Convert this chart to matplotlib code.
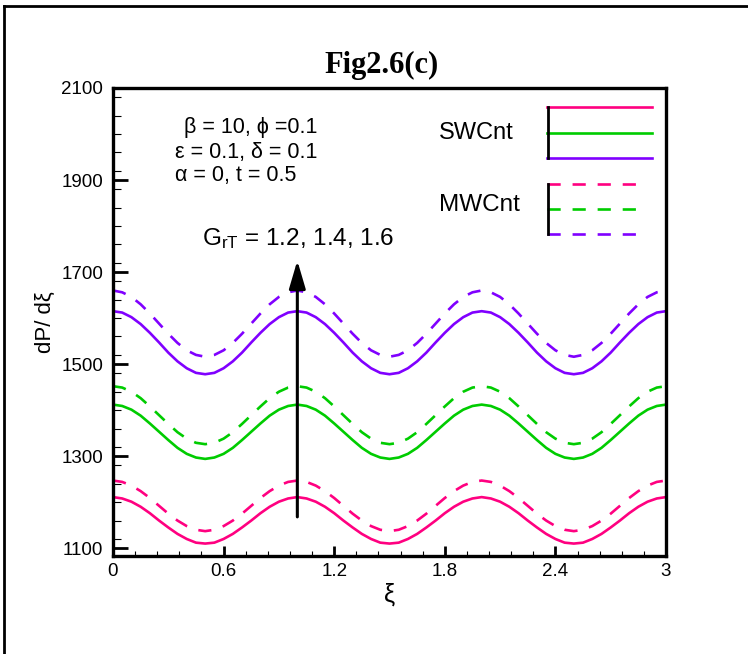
import matplotlib
matplotlib.use("Agg")
import matplotlib.pyplot as plt
from matplotlib.lines import Line2D
from matplotlib.ticker import MultipleLocator

plt.rcParams['font.family'] = ['Liberation Sans', 'DejaVu Sans']
plt.rcParams['mathtext.fontset'] = 'custom'
plt.rcParams['mathtext.rm'] = 'Liberation Sans'
plt.rcParams['mathtext.it'] = 'Liberation Sans:italic'

# xi values, step 0.05 from 0 to 3
xi = [round(0.05 * i, 2) for i in range(61)]

# dP/dxi (one line per period 0-1, 1-2, 2-3)
sw_12 = [1211, 1208, 1201, 1190, 1176, 1160, 1145, 1131, 1120, 1112,
         1110, 1112, 1120, 1131, 1145, 1160, 1176, 1190, 1201, 1208,
         1211, 1208, 1201, 1190, 1176, 1160, 1145, 1131, 1120, 1112,
         1110, 1112, 1120, 1131, 1145, 1160, 1176, 1190, 1201, 1208,
         1211, 1208, 1201, 1190, 1176, 1160, 1145, 1131, 1120, 1112,
         1110, 1112, 1120, 1131, 1145, 1160, 1176, 1190, 1201, 1208,
         1211]
mw_12 = [1247, 1244, 1236, 1224, 1209, 1192, 1175, 1160, 1148, 1140,
         1137, 1140, 1148, 1160, 1175, 1192, 1209, 1224, 1236, 1244,
         1247, 1244, 1236, 1224, 1209, 1192, 1175, 1160, 1148, 1140,
         1137, 1140, 1148, 1160, 1175, 1192, 1209, 1224, 1236, 1244,
         1247, 1244, 1236, 1224, 1209, 1192, 1175, 1160, 1148, 1140,
         1137, 1140, 1148, 1160, 1175, 1192, 1209, 1224, 1236, 1244,
         1247]
sw_14 = [1412, 1409, 1401, 1388, 1371, 1353, 1335, 1318, 1305, 1297,
         1294, 1297, 1305, 1318, 1335, 1353, 1371, 1388, 1401, 1409,
         1412, 1409, 1401, 1388, 1371, 1353, 1335, 1318, 1305, 1297,
         1294, 1297, 1305, 1318, 1335, 1353, 1371, 1388, 1401, 1409,
         1412, 1409, 1401, 1388, 1371, 1353, 1335, 1318, 1305, 1297,
         1294, 1297, 1305, 1318, 1335, 1353, 1371, 1388, 1401, 1409,
         1412]
mw_14 = [1452, 1449, 1440, 1426, 1408, 1389, 1370, 1352, 1338, 1329,
         1326, 1329, 1338, 1352, 1370, 1389, 1408, 1426, 1440, 1449,
         1452, 1449, 1440, 1426, 1408, 1389, 1370, 1352, 1338, 1329,
         1326, 1329, 1338, 1352, 1370, 1389, 1408, 1426, 1440, 1449,
         1452, 1449, 1440, 1426, 1408, 1389, 1370, 1352, 1338, 1329,
         1326, 1329, 1338, 1352, 1370, 1389, 1408, 1426, 1440, 1449,
         1452]
sw_16 = [1615, 1612, 1602, 1587, 1568, 1547, 1525, 1506, 1491, 1481,
         1478, 1481, 1491, 1506, 1525, 1547, 1568, 1587, 1602, 1612,
         1615, 1612, 1602, 1587, 1568, 1547, 1525, 1506, 1491, 1481,
         1478, 1481, 1491, 1506, 1525, 1547, 1568, 1587, 1602, 1612,
         1615, 1612, 1602, 1587, 1568, 1547, 1525, 1506, 1491, 1481,
         1478, 1481, 1491, 1506, 1525, 1547, 1568, 1587, 1602, 1612,
         1615]
mw_16 = [1660, 1656, 1646, 1630, 1610, 1588, 1566, 1546, 1530, 1520,
         1516, 1520, 1530, 1546, 1566, 1588, 1610, 1630, 1646, 1656,
         1660, 1656, 1646, 1630, 1610, 1588, 1566, 1546, 1530, 1520,
         1516, 1520, 1530, 1546, 1566, 1588, 1610, 1630, 1646, 1656,
         1660, 1656, 1646, 1630, 1610, 1588, 1566, 1546, 1530, 1520,
         1516, 1520, 1530, 1546, 1566, 1588, 1610, 1630, 1646, 1656,
         1660]

colors = ['#FF0080', '#00CC00', '#8000FF']
sw_curves = [sw_12, sw_14, sw_16]
mw_curves = [mw_12, mw_14, mw_16]

x_ticks = [0, 0.6, 1.2, 1.8, 2.4, 3]
x_tick_labels = ['0', '0.6', '1.2', '1.8', '2.4', '3']
y_ticks = [1100, 1300, 1500, 1700, 1900, 2100]

fig = plt.figure(figsize=(7.48, 6.54), dpi=100)
ax = fig.add_axes([113 / 748, 1 - 556 / 654, 553 / 748, 468 / 654])

lw = 1.9
for c, sw, mw in zip(colors, sw_curves, mw_curves):
    ax.plot(xi, sw, color=c, lw=lw, solid_capstyle='butt')
    ax.plot(xi, mw, color=c, lw=lw, dashes=(5, 4.5), dash_capstyle='butt')

# arrow for increasing G_rT
ax.annotate('', xy=(1.0, 1725), xytext=(1.0, 1168),
            arrowprops=dict(arrowstyle='-|>,head_length=1.7,head_width=0.5',
                            color='black', lw=2.2, shrinkA=0, shrinkB=0))

ax.set_xlim(0, 3)
ax.set_ylim(1083, 2100)
ax.set_xticks(x_ticks)
ax.set_xticklabels(x_tick_labels)
ax.set_yticks(y_ticks)
ax.xaxis.set_minor_locator(MultipleLocator(0.12))
ax.yaxis.set_minor_locator(MultipleLocator(40))

for s in ax.spines.values():
    s.set_linewidth(2.4)
ax.tick_params(axis='both', which='both', direction='in', top=False, right=False,
               labelsize=13.5)
ax.tick_params(axis='y', which='major', length=11, width=2.0, pad=7)
ax.tick_params(axis='y', which='minor', length=6, width=0.8)
ax.tick_params(axis='x', which='major', length=7, width=2.0, pad=5)
ax.tick_params(axis='x', which='minor', length=3.5, width=0.8)

ax.set_xlabel('ξ', fontsize=18, labelpad=2)
ax.set_ylabel('dP/ dξ', fontsize=16, labelpad=4)

# parameter text
ax.text(0.128, 0.915, 'β = 10, ϕ =0.1', transform=ax.transAxes, fontsize=15.5, va='center')
ax.text(0.113, 0.863, 'ε = 0.1, δ = 0.1', transform=ax.transAxes, fontsize=15.5, va='center')
ax.text(0.113, 0.812, 'α = 0, t = 0.5', transform=ax.transAxes, fontsize=15.5, va='center')
ax.text(0.161, 0.679, r'G$_{\mathrm{rT}}$ = 1.2, 1.4, 1.6', transform=ax.transAxes,
        fontsize=17.5, va='center')

# legend drawn inside the plot
ax.text(0.589, 0.904, 'SWCnt', transform=ax.transAxes, fontsize=17, va='center')
ax.text(0.589, 0.750, 'MWCnt', transform=ax.transAxes, fontsize=17.5, va='center')
sw_y = [0.959, 0.904, 0.850]
mw_y = [0.795, 0.741, 0.688]
for c, y in zip(colors, sw_y):
    ax.add_line(Line2D([0.785, 0.975], [y, y], color=c, lw=lw, transform=ax.transAxes))
for c, y in zip(colors, mw_y):
    ax.add_line(Line2D([0.785, 0.951], [y, y], color=c, lw=lw, dashes=(5, 4.5),
                       transform=ax.transAxes))
ax.add_line(Line2D([0.787, 0.787], [sw_y[0], sw_y[-1]], color='black', lw=2.0,
                   transform=ax.transAxes))
ax.add_line(Line2D([0.787, 0.787], [mw_y[0], mw_y[-1]], color='black', lw=2.0,
                   transform=ax.transAxes))

fig.text(382 / 748, 1 - 65 / 654, 'Fig2.6(c)', family='Liberation Serif',
         fontweight='bold', fontsize=22, ha='center', va='center')

# outer frame (left and top edges visible)
fig.add_artist(Line2D([4 / 748, 4 / 748], [0, 1 - 6 / 654], color='black', lw=2.0,
                      transform=fig.transFigure))
fig.add_artist(Line2D([4 / 748, 1], [1 - 6 / 654, 1 - 6 / 654], color='black', lw=2.0,
                      transform=fig.transFigure))

fig.savefig('out.png', dpi=100)
